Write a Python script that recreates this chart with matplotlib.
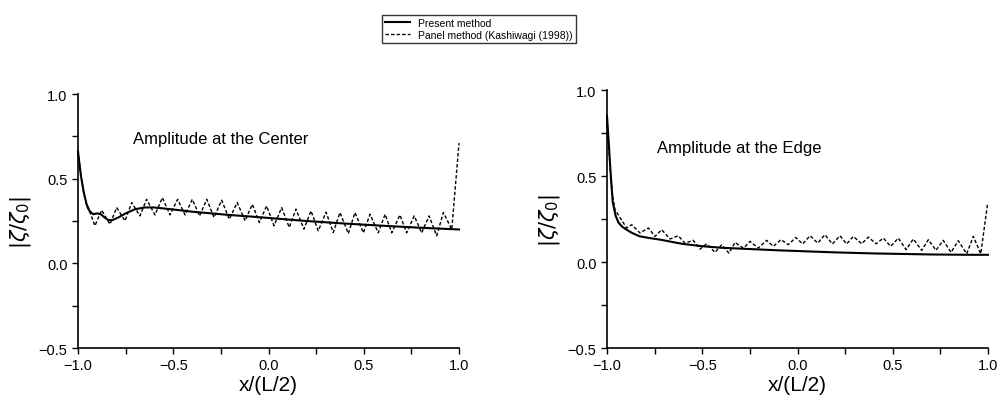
import matplotlib
matplotlib.use("Agg")
import matplotlib.pyplot as plt
from matplotlib.ticker import MultipleLocator

plt.rcParams['font.family'] = ['Liberation Sans', 'DejaVu Sans']
plt.rcParams['mathtext.fontset'] = 'dejavusans'

# --- amplitude at the center ---
c_solid_x = [-1.0, -0.985, -0.97, -0.955, -0.94, -0.92, -0.9, -0.88, -0.86, -0.84, -0.82,
             -0.79, -0.75, -0.70, -0.65, -0.6, -0.5, -0.4, -0.3, -0.2, -0.1, 0.0,
             0.2, 0.4, 0.6, 0.8, 1.0]
c_solid_y = [0.66, 0.52, 0.42, 0.35, 0.31, 0.29, 0.295, 0.29, 0.27, 0.255, 0.255,
             0.27, 0.295, 0.32, 0.33, 0.33, 0.318, 0.305, 0.295, 0.285, 0.277, 0.268,
             0.25, 0.235, 0.222, 0.21, 0.2]

c_dash_x = [-1.0, -0.985, -0.97, -0.955, -0.937, -0.911, -0.876, -0.832, -0.797, -0.753,
            -0.718, -0.675, -0.640, -0.596, -0.557, -0.517, -0.477, -0.438, -0.400, -0.362,
            -0.324, -0.286, -0.246, -0.206, -0.164, -0.123, -0.085, -0.048, -0.010, 0.029,
            0.069, 0.109, 0.144, 0.186, 0.223, 0.261, 0.302, 0.340, 0.375, 0.419,
            0.454, 0.498, 0.533, 0.576, 0.612, 0.647, 0.690, 0.725, 0.765, 0.804,
            0.843, 0.883, 0.918, 0.962, 1.0]
c_dash_y = [0.66, 0.52, 0.42, 0.34, 0.30, 0.222, 0.314, 0.231, 0.329, 0.251,
            0.359, 0.280, 0.378, 0.286, 0.388, 0.286, 0.378, 0.286, 0.378, 0.28,
            0.378, 0.271, 0.373, 0.261, 0.359, 0.251, 0.349, 0.241, 0.339, 0.222,
            0.329, 0.212, 0.320, 0.202, 0.310, 0.192, 0.302, 0.182, 0.300, 0.176,
            0.300, 0.180, 0.290, 0.180, 0.290, 0.180, 0.286, 0.180, 0.280, 0.180,
            0.280, 0.163, 0.300, 0.20, 0.71]

# --- amplitude at the edge ---
e_solid_x = [-1.0, -0.99, -0.98, -0.97, -0.955, -0.94, -0.92, -0.9, -0.87, -0.83, -0.78,
             -0.72, -0.65, -0.6, -0.5, -0.4, -0.3, -0.2, -0.1, 0.0, 0.1, 0.2, 0.3,
             0.4, 0.5, 0.6, 0.7, 0.8, 0.9, 1.0]
e_solid_y = [0.85, 0.68, 0.5, 0.35, 0.27, 0.23, 0.205, 0.19, 0.17, 0.15, 0.14,
             0.13, 0.115, 0.105, 0.092, 0.083, 0.078, 0.073, 0.068, 0.064, 0.06, 0.056, 0.053,
             0.05, 0.048, 0.046, 0.044, 0.043, 0.042, 0.042]

e_dash_x = [-1.0, -0.99, -0.98, -0.97, -0.958, -0.897, -0.870, -0.827, -0.783, -0.748,
            -0.713, -0.669, -0.626, -0.591, -0.547, -0.512, -0.477, -0.433, -0.398, -0.360,
            -0.328, -0.284, -0.249, -0.206, -0.162, -0.127, -0.087, -0.048, -0.009, 0.027,
            0.066, 0.106, 0.144, 0.183, 0.223, 0.258, 0.293, 0.337, 0.372, 0.412,
            0.451, 0.489, 0.529, 0.570, 0.608, 0.652, 0.687, 0.727, 0.765, 0.806,
            0.844, 0.888, 0.923, 0.962, 0.997]
e_dash_y = [0.80, 0.65, 0.50, 0.38, 0.304, 0.198, 0.217, 0.169, 0.198, 0.149,
            0.188, 0.134, 0.153, 0.110, 0.126, 0.075, 0.106, 0.056, 0.100, 0.052,
            0.114, 0.081, 0.120, 0.081, 0.126, 0.091, 0.130, 0.101, 0.143, 0.105,
            0.153, 0.110, 0.159, 0.105, 0.153, 0.105, 0.149, 0.106, 0.145, 0.106,
            0.139, 0.091, 0.139, 0.072, 0.134, 0.068, 0.130, 0.068, 0.126, 0.056,
            0.124, 0.048, 0.149, 0.048, 0.333]

panels = [
    ("Amplitude at the Center", c_solid_x, c_solid_y, c_dash_x, c_dash_y,
     [0.078, 0.157, 0.381, 0.6135], (-0.71, 0.74)),
    ("Amplitude at the Edge", e_solid_x, e_solid_y, e_dash_x, e_dash_y,
     [0.607, 0.157, 0.381, 0.623], (-0.74, 0.665)),
]

fig = plt.figure(figsize=(10, 4.14), dpi=100)


def fmt(v, p):
    return f"{v:.1f}".replace('-', '\u2212')


handles = None
for title, sx, sy, dx, dy, rect, tpos in panels:
    ax = fig.add_axes(rect)
    h1, = ax.plot(sx, sy, color='black', lw=1.5, clip_on=False, label='Present method')
    h2, = ax.plot(dx, dy, color='black', lw=1.0, ls=(0, (2.5, 1.5)), clip_on=False,
                  label='Panel method (Kashiwagi (1998))')
    handles = [h1, h2]
    ax.set_xlim(-1.0, 1.0)
    ax.set_ylim(-0.5, 1.0)
    ax.spines['top'].set_visible(False)
    ax.spines['right'].set_visible(False)
    ax.spines['left'].set_linewidth(1.2)
    ax.spines['bottom'].set_linewidth(1.2)
    ax.xaxis.set_major_locator(MultipleLocator(0.5))
    ax.xaxis.set_minor_locator(MultipleLocator(0.25))
    ax.yaxis.set_major_locator(MultipleLocator(0.5))
    ax.yaxis.set_minor_locator(MultipleLocator(0.25))
    ax.xaxis.set_major_formatter(plt.FuncFormatter(fmt))
    ax.yaxis.set_major_formatter(plt.FuncFormatter(fmt))
    ax.tick_params(which='both', direction='out', length=4, width=1.0, labelsize=10.5)
    ax.text(tpos[0], tpos[1], title, fontsize=12, va='center', ha='left')
    ax.set_xlabel('x/(L/2)', fontsize=15, labelpad=2)
    ax.set_ylabel(r'$|\zeta/\zeta_0|$', fontsize=15, labelpad=4)

fig.legend(handles=handles, loc='upper center', bbox_to_anchor=(0.479, 0.975),
           fontsize=7.5, frameon=True, fancybox=False, edgecolor='black',
           handlelength=2.4, borderpad=0.3, labelspacing=0.2)

fig.savefig('out.png', dpi=100)
